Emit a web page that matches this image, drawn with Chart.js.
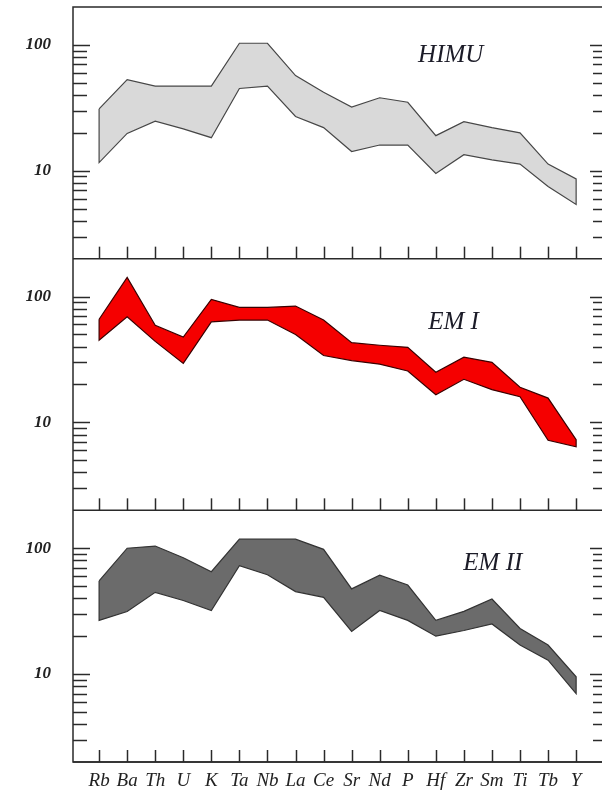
<!DOCTYPE html>
<html>
<head>
<meta charset="utf-8">
<script src="https://cdn.jsdelivr.net/npm/chart.js@4.4.1/dist/chart.umd.min.js"></script>
<style>
  html, body { margin: 0; padding: 0; background: #fff; overflow: hidden; }
  #wrap { position: relative; width: 612px; height: 795px; }
</style>
</head>
<body>
<div id="wrap"><canvas id="spider" width="612" height="795"></canvas></div>
<script>
// element order along the x axis
const elements = ["Rb", "Ba", "Th", "U", "K", "Ta", "Nb", "La", "Ce", "Sr", "Nd", "P", "Hf", "Zr", "Sm", "Ti", "Tb", "Y"];

// upper / lower envelope of each mantle end-member (normalised)
const himuHigh = [31, 53, 47, 47, 47, 103, 103, 57, 42, 32, 38, 35, 19, 24.5, 22, 20, 11.3, 8.6];
const himuLow  = [11.6, 19.8, 24.8, 21.5, 18.3, 45, 47, 27, 22, 14.2, 16, 16, 9.5, 13.4, 12.2, 11.3, 7.5, 5.4];
const em1High  = [66, 142, 59, 47.6, 95, 82, 82, 84, 65, 43, 41, 39.5, 25, 33, 30, 19, 15.6, 7.3];
const em1Low   = [45, 69, 44, 29.4, 63, 65, 65, 50, 34, 31, 29, 25.6, 16.6, 22, 18.2, 16, 7.2, 6.4];
const em2High  = [55, 100, 104, 84, 65, 118, 118, 118, 98, 47.5, 61, 51, 26.7, 31.5, 39.5, 23, 17, 9.5];
const em2Low   = [26.7, 31.4, 44.6, 38.4, 32, 72.5, 61.5, 45.2, 40.7, 21.8, 32, 26.7, 20, 22.2, 25, 17, 12.9, 7];

// log axis tick marks and the ones that get a label
const yTicks = [3, 4, 5, 6, 7, 8, 9, 10, 20, 30, 40, 50, 60, 70, 80, 90, 100];
const yLabels = [10, 100];

const serif = '"Liberation Serif", "DejaVu Serif", serif';

// panels top to bottom
const panels = [
  { id: "yHimu", title: "HIMU", high: himuHigh, low: himuLow, fill: "#d9d9d9", line: "#474747", tx: 12.53, ty: 83 },
  { id: "yEm1", title: "EM I", high: em1High, low: em1Low, fill: "#f50000", line: "#3a0000", tx: 12.63, ty: 62 },
  { id: "yEm2", title: "EM II", high: em2High, low: em2Low, fill: "#6b6b6b", line: "#333333", tx: 14.03, ty: 76 }
];

function yScale() {
  return {
    type: "logarithmic",
    position: "left",
    stack: "panels",
    stackWeight: 1,
    min: 2,
    max: 200,
    // tick marks are drawn by the plugin; tickLength only pushes the labels out
    grid: { display: false, drawTicks: true, tickLength: 22 },
    border: { display: false },
    afterBuildTicks: s => { s.ticks = yTicks.map(v => ({ value: v })); },
    afterFit: s => { s.width = 73; },
    ticks: {
      autoSkip: false,
      padding: 0,
      color: "#222",
      font: { family: serif, style: "italic", weight: "bold", size: 17, lineHeight: 0.8 },
      callback: v => yLabels.includes(v) ? String(v) : ""
    }
  };
}

// later-defined stacked left axes sit on top, so add them bottom-up
const scales = {
  x: {
    type: "linear",
    min: -0.93,
    max: 18.1,
    grid: { display: false, drawTicks: false },
    border: { display: false },
    afterBuildTicks: s => { s.ticks = elements.map((e, i) => ({ value: i })); },
    afterFit: s => { s.height = 33; },
    ticks: {
      autoSkip: false,
      maxRotation: 0,
      padding: 8,
      color: "#222",
      font: { family: serif, style: "italic", size: 19 },
      callback: v => elements[v]
    }
  }
};
[...panels].reverse().forEach(p => { scales[p.id] = yScale(); });

// each band is one closed outline: upper curve out, lower curve back
const datasets = panels.map(p => ({
  label: p.title,
  data: [
    ...p.high.map((v, i) => ({ x: i, y: v })),
    ...p.low.map((v, i) => ({ x: i, y: v })).reverse(),
    { x: 0, y: p.high[0] }
  ],
  xAxisID: "x",
  yAxisID: p.id,
  fill: "shape",
  backgroundColor: p.fill,
  borderColor: p.line,
  borderWidth: 1.2,
  pointRadius: 0,
  tension: 0
}));

// frame, inward ticks and panel names
const framePlugin = {
  id: "frame",
  afterDatasetsDraw(chart) {
    const { ctx, chartArea: a } = chart;
    const x = chart.scales.x;
    const seg = (x1, y1, x2, y2) => { ctx.beginPath(); ctx.moveTo(x1, y1); ctx.lineTo(x2, y2); ctx.stroke(); };
    ctx.save();
    ctx.strokeStyle = "#2a2a2a";
    ctx.lineWidth = 1.5;
    ctx.strokeRect(a.left, a.top, a.right - a.left, a.bottom - a.top);
    panels.forEach(p => {
      const ys = chart.scales[p.id];
      seg(a.left, ys.bottom, a.right, ys.bottom);
      yTicks.forEach(v => {
        const y = Math.round(ys.getPixelForValue(v)) + 0.5;
        const len = yLabels.includes(v) ? 17 : 14;
        seg(a.left, y, a.left + len, y);
        seg(a.right, y, a.right - len, y);
      });
      elements.forEach((e, i) => {
        const px = Math.round(x.getPixelForValue(i)) + 0.5;
        seg(px, ys.bottom, px, ys.bottom - 12);
      });
      ctx.fillStyle = "#1c1c28";
      ctx.font = "italic 25px " + serif;
      ctx.textAlign = "center";
      ctx.textBaseline = "middle";
      ctx.fillText(p.title, x.getPixelForValue(p.tx), ys.getPixelForValue(p.ty));
    });
    ctx.restore();
  }
};

new Chart(document.getElementById("spider"), {
  type: "line",
  data: { datasets },
  options: {
    responsive: false,
    animation: false,
    layout: { padding: { top: 7, right: 5, left: 0, bottom: 0 } },
    plugins: { legend: { display: false }, tooltip: { enabled: false } },
    scales
  },
  plugins: [framePlugin]
});
</script>
</body>
</html>
